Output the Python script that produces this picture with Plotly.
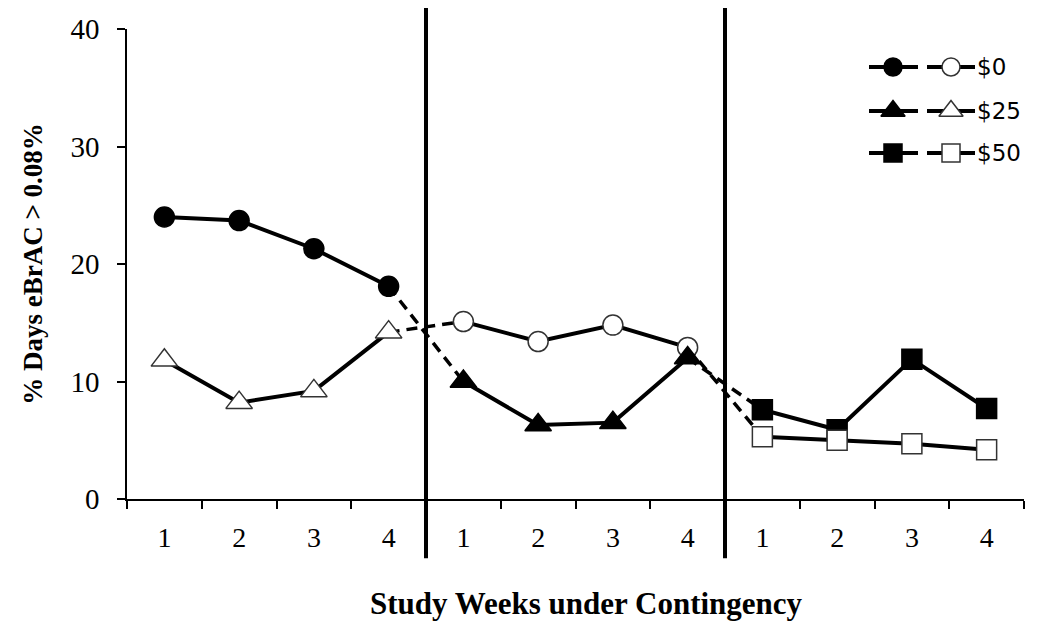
import numpy as np
import plotly.graph_objects as go

# ---- data ----
weeks = ["1", "2", "3", "4", "1", "2", "3", "4", "1", "2", "3", "4"]
filled_vals = [24.0, 23.7, 21.3, 18.1, 10.0, 6.3, 6.5, 12.0, 7.6, 5.9, 11.9, 7.7]
open_vals = [11.8, 8.2, 9.2, 14.2, 15.1, 13.4, 14.8, 12.9, 5.3, 5.0, 4.7, 4.2]
filled_symbols = ["circle", "triangle-up", "square"]
open_symbols = ["triangle-up", "circle", "square"]
legend_labels = ["$0", "$25", "$50"]
legend_symbols = ["circle", "triangle-up", "square"]
y_ticks = [0, 10, 20, 30, 40]

x = np.arange(1, len(weeks) + 1)
SERIF = "Liberation Serif"
SANS = "DejaVu Sans"

def msize(sym, base=20):
    return base + 3 if sym == "triangle-up" else base

fig = go.Figure()

# dashed connectors between phases
for vals in (filled_vals, open_vals):
    for p in (1, 2):
        i = 4 * p
        fig.add_trace(go.Scatter(
            x=x[i - 1:i + 1], y=vals[i - 1:i + 1], mode="lines",
            line=dict(color="black", width=3.5, dash="11px,7px"),
            showlegend=False, hoverinfo="skip"))

def seg(vals, p, sym, filled):
    s = slice(4 * p, 4 * p + 4)
    fig.add_trace(go.Scatter(
        x=x[s], y=vals[s], mode="lines+markers",
        line=dict(color="black", width=4),
        marker=dict(symbol=sym, size=msize(sym),
                    color="black" if filled else "white",
                    line=dict(color="black" if filled else "#333", width=1.5)),
        showlegend=False))

# phase 1
seg(filled_vals, 0, filled_symbols[0], True)
seg(open_vals, 0, open_symbols[0], False)
# phase 2: filled on top
seg(open_vals, 1, open_symbols[1], False)
seg(filled_vals, 1, filled_symbols[1], True)
# phase 3: open on top
seg(filled_vals, 2, filled_symbols[2], True)
seg(open_vals, 2, open_symbols[2], False)

# ---- custom legend on pixel overlay axes ----
leg_rows = [67, 111, 153]
for lab, sym, yy in zip(legend_labels, legend_symbols, leg_rows):
    fig.add_trace(go.Scatter(
        x=[869, 918], y=[yy, yy], xaxis="x2", yaxis="y2", mode="lines",
        line=dict(color="black", width=4), showlegend=False, hoverinfo="skip"))
    fig.add_trace(go.Scatter(
        x=[927, 975], y=[yy, yy], xaxis="x2", yaxis="y2", mode="lines",
        line=dict(color="black", width=4), showlegend=False, hoverinfo="skip"))
    fig.add_trace(go.Scatter(
        x=[893], y=[yy], xaxis="x2", yaxis="y2", mode="markers",
        marker=dict(symbol=sym, size=msize(sym, 18), color="black",
                    line=dict(color="black", width=1.5)),
        showlegend=False, hoverinfo="skip"))
    fig.add_trace(go.Scatter(
        x=[951], y=[yy], xaxis="x2", yaxis="y2", mode="markers",
        marker=dict(symbol=sym, size=msize(sym, 18), color="white",
                    line=dict(color="#333", width=1.5)),
        showlegend=False, hoverinfo="skip"))
    fig.add_annotation(x=975, y=yy, xref="x2", yref="y2", text=lab,
                       showarrow=False, xanchor="left", yanchor="middle",
                       font=dict(family=SANS, size=23, color="black"))

# phase separators
for xv in (4.5, 8.5):
    fig.add_shape(type="line", xref="x", yref="paper", x0=xv, x1=xv,
                  y0=-0.126, y1=1.08, line=dict(color="black", width=4),
                  layer="above")

# x-axis title (slightly right of centre, as in the reference)
fig.add_annotation(x=0.512, y=-0.223, xref="paper", yref="paper",
                   text="<b>Study Weeks under Contingency</b>", showarrow=False,
                   xanchor="center", yanchor="middle",
                   font=dict(family=SERIF, size=31, color="black"))

fig.update_layout(
    width=1050, height=626,
    margin=dict(l=119, r=34, t=21, b=135, autoexpand=False),
    paper_bgcolor="white", plot_bgcolor="white",
    showlegend=False,
    xaxis=dict(
        range=[0.5, 12.5], showgrid=False, zeroline=False, automargin=False,
        showline=True, linecolor="black", linewidth=1.5,
        tickmode="array", tickvals=list(x), ticktext=weeks,
        ticks="", ticklabelstandoff=13,
        tickfont=dict(family=SERIF, size=28, color="black"),
        minor=dict(tickmode="array", tickvals=list(np.arange(0.5, 13, 1.0)),
                   ticks="outside", ticklen=8, tickwidth=1.5, tickcolor="black",
                   showgrid=False),
    ),
    yaxis=dict(
        range=[0, 40], showgrid=False, zeroline=False, automargin=False,
        showline=True, linecolor="black", linewidth=1.5,
        tickmode="array", tickvals=y_ticks,
        ticks="outside", ticklen=8, tickwidth=1.5, tickcolor="black",
        ticklabelstandoff=12,
        tickfont=dict(family=SERIF, size=29, color="black"),
        title=dict(text="<b>% Days eBrAC > 0.08%</b>", standoff=20,
                   font=dict(family=SERIF, size=27, color="black")),
    ),
    xaxis2=dict(overlaying="x", range=[127, 1024], visible=False),
    yaxis2=dict(overlaying="y", range=[499, 29], visible=False),
)

fig.write_html("out.html")
